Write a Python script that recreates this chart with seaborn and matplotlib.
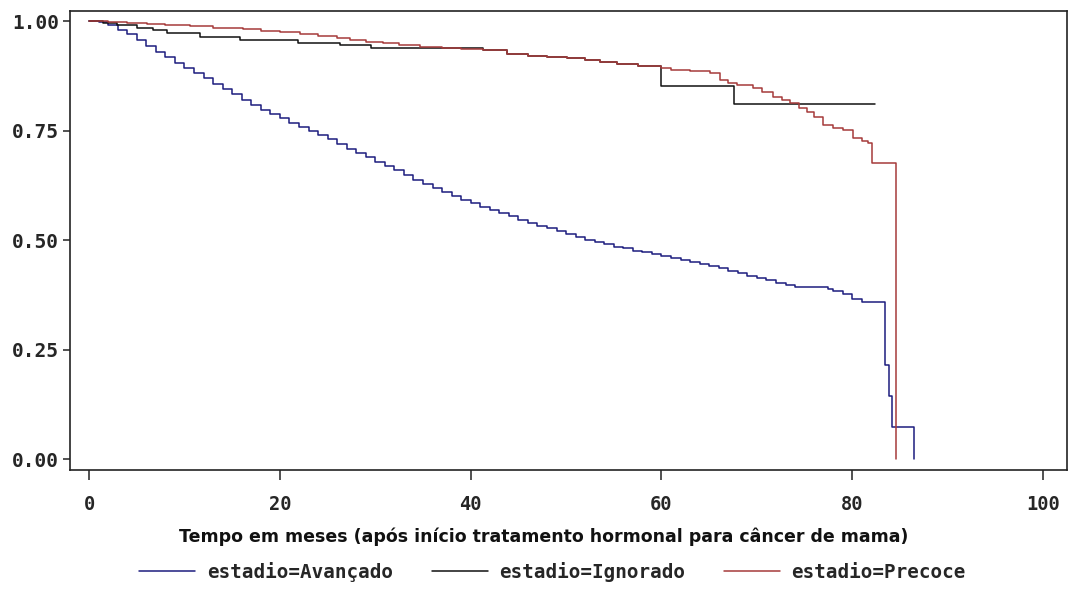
import numpy as np
import pandas as pd
import matplotlib
matplotlib.use("Agg")
import matplotlib.pyplot as plt
from matplotlib.lines import Line2D
import seaborn as sns

# ---- data ----
groups = ["estadio=Avançado", "estadio=Ignorado", "estadio=Precoce"]

t_avancado = [0, 1, 2, 3, 4, 5, 6, 7, 8, 9, 10, 11, 12, 13, 14, 15, 16, 17, 18, 19,
              20, 21, 22, 23, 24, 25, 26, 27, 28, 29, 30, 31, 32, 33, 34, 35, 36, 37,
              38, 39, 40, 41, 42, 43, 44, 45, 46, 47, 48, 49, 50, 51, 52, 53, 54, 55,
              56, 57, 58, 59, 60, 61, 62, 63, 64, 65, 66, 67, 68, 69, 70, 71, 72, 73,
              74, 77.5, 78, 79, 80, 81, 83.4, 83.8, 84.2, 86.5]
s_avancado = [1.000, 0.997, 0.990, 0.980, 0.970, 0.957, 0.943, 0.930, 0.917, 0.905,
              0.893, 0.881, 0.869, 0.857, 0.845, 0.833, 0.820, 0.808, 0.797, 0.787,
              0.778, 0.768, 0.759, 0.750, 0.741, 0.731, 0.720, 0.709, 0.699, 0.689,
              0.679, 0.669, 0.659, 0.648, 0.638, 0.628, 0.619, 0.610, 0.601, 0.592,
              0.584, 0.576, 0.568, 0.561, 0.554, 0.546, 0.539, 0.533, 0.527, 0.520,
              0.513, 0.506, 0.500, 0.495, 0.490, 0.485, 0.481, 0.476, 0.472, 0.468,
              0.464, 0.459, 0.455, 0.450, 0.446, 0.441, 0.436, 0.430, 0.425, 0.419,
              0.413, 0.408, 0.403, 0.397, 0.393, 0.389, 0.384, 0.376, 0.366, 0.359,
              0.215, 0.144, 0.073, 0.000]

t_ignorado = [0, 1.5, 2.9, 5, 6.7, 8.2, 11.6, 15.8, 21.9, 26.3, 29.5, 41.3, 43.8,
              46, 48, 50.1, 52, 53.6, 55.3, 57.5, 59.9, 67.6, 82.4]
s_ignorado = [1.000, 0.996, 0.991, 0.985, 0.979, 0.973, 0.963, 0.957, 0.951, 0.945,
              0.938, 0.934, 0.925, 0.921, 0.918, 0.915, 0.911, 0.906, 0.903, 0.898,
              0.852, 0.810, 0.810]

t_precoce = [0, 2, 4, 6.1, 8, 10.6, 13, 16.1, 18, 20, 22.1, 24, 26, 27.4, 29, 30.8,
             32.5, 34.7, 37, 39, 41.3, 43.8, 46, 48, 50.1, 52, 53.6, 55.3, 57.5, 59.9,
             61, 63, 65.1, 66.1, 67, 67.9, 69.6, 70.5, 71.7, 72.6, 73.5, 74.4, 75.3,
             76, 76.9, 78, 79, 80.1, 81, 81.6, 82.1, 84.6]
s_precoce = [1.000, 0.998, 0.995, 0.993, 0.990, 0.988, 0.985, 0.982, 0.978, 0.974,
             0.970, 0.966, 0.961, 0.957, 0.953, 0.949, 0.945, 0.941, 0.939, 0.936,
             0.934, 0.925, 0.921, 0.918, 0.915, 0.911, 0.906, 0.903, 0.898, 0.892,
             0.889, 0.885, 0.881, 0.865, 0.858, 0.854, 0.847, 0.837, 0.826, 0.819,
             0.812, 0.802, 0.792, 0.780, 0.763, 0.757, 0.751, 0.733, 0.727, 0.721,
             0.676, 0.000]

x_ticks = [0, 20, 40, 60, 80, 100]
y_ticks = [0.00, 0.25, 0.50, 0.75, 1.00]
y_tick_labels = ["0.00", "0.25", "0.50", "0.75", "1.00"]
x_label = "Tempo em meses (após início tratamento hormonal para câncer de mama)"

colors = {"estadio=Avançado": "#1c1c7e",
          "estadio=Ignorado": "#111111",
          "estadio=Precoce": "#a63a3a"}

df = pd.concat([
    pd.DataFrame({"t": t_avancado, "S": s_avancado, "estadio": groups[0]}),
    pd.DataFrame({"t": t_ignorado, "S": s_ignorado, "estadio": groups[1]}),
    pd.DataFrame({"t": t_precoce, "S": s_precoce, "estadio": groups[2]}),
], ignore_index=True)

sns.set_theme(style="white")
plt.rcParams["font.family"] = ["DejaVu Sans"]

fig = plt.figure(figsize=(10.72, 5.91), dpi=100)
ax = fig.add_axes([0.0653, 0.2047, 0.9300, 0.7767])

sns.lineplot(data=df, x="t", y="S", hue="estadio", palette=colors,
             estimator=None, sort=False, drawstyle="steps-post",
             linewidth=1.1, legend=False, ax=ax)

ax.set_xlim(-2.0, 102.5)
ax.set_ylim(-0.025, 1.023)
ax.set_xticks(x_ticks)
ax.set_xticklabels([str(v) for v in x_ticks],
                   fontfamily="DejaVu Sans Mono", fontweight="bold", fontsize=13.5)
ax.set_yticks(y_ticks)
ax.set_yticklabels(y_tick_labels,
                   fontfamily="DejaVu Sans Mono", fontweight="bold", fontsize=14)
ax.set_xlabel("")
ax.set_ylabel("")
ax.tick_params(axis="x", direction="out", length=7, width=1.1, color="#222222",
               pad=11, bottom=True)
ax.tick_params(axis="y", direction="out", length=5, width=1.1, color="#222222",
               pad=3, left=True)
for sp in ax.spines.values():
    sp.set_color("#222222")
    sp.set_linewidth(1.2)

fig.text(544 / 1072, 1 - 537 / 591, x_label, ha="center", va="center",
         fontsize=12.5, fontweight="bold",
         family=["Liberation Sans Narrow", "DejaVu Sans"], color="#111111")

handles = [Line2D([0], [0], color=colors[g], lw=1.1) for g in groups]
leg = fig.legend(handles, groups, loc="center", bbox_to_anchor=(0.5155, 1 - 572 / 591),
                 ncol=3, frameon=False, handlelength=2.9, handletextpad=0.6,
                 columnspacing=2.0,
                 prop={"family": "DejaVu Sans Mono", "weight": "bold", "size": 13.9})

fig.savefig("out.png", dpi=100, facecolor="white")
